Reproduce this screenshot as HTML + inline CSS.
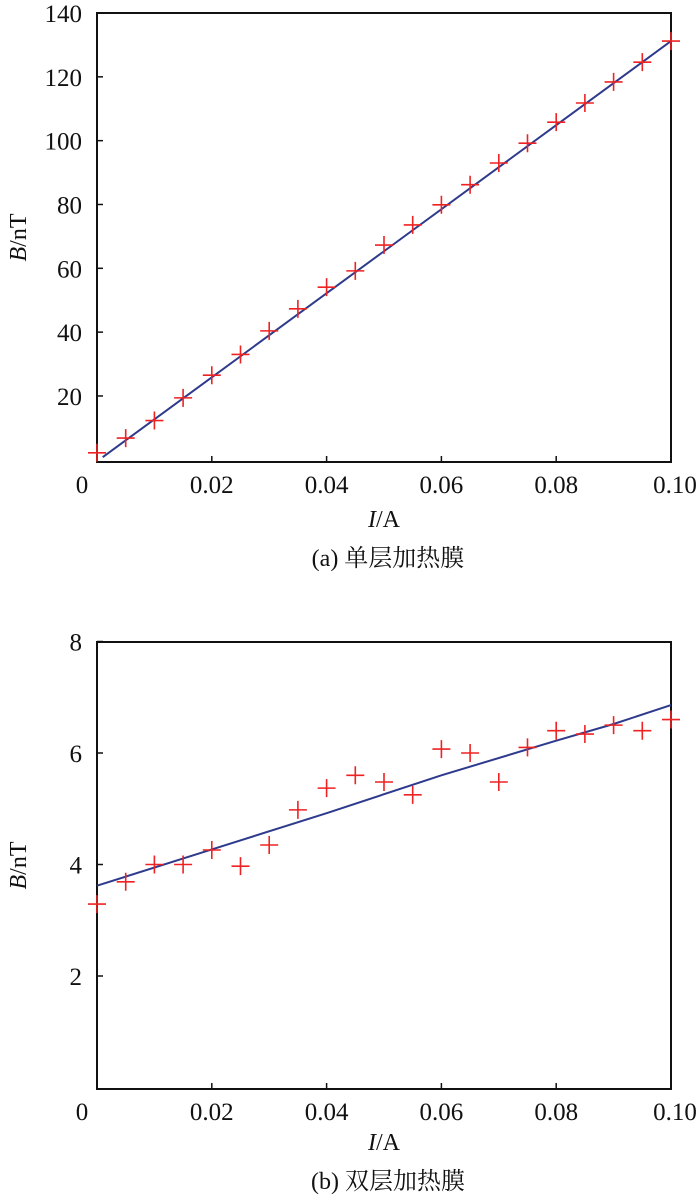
<!DOCTYPE html>
<html><head><meta charset="utf-8"><style>
html,body{margin:0;padding:0;background:#fff;}
svg{display:block;font-family:"Liberation Serif","Noto Serif CJK SC",serif;}
</style></head><body>
<svg id="fig" width="700" height="1202" viewBox="0 0 700 1202"></svg>
<script>
const xCats=[0,0.005,0.01,0.015,0.02,0.025,0.03,0.035,0.04,0.045,0.05,0.055,0.06,0.065,0.07,0.075,0.08,0.085,0.09,0.095,0.1];
const singleVals=[2.2,6.8,12.3,19.4,26.5,33,40.4,47.3,54.1,59.2,67.3,73.6,79.9,86.2,93,99.2,105.8,111.8,118.4,124.6,131.2];
const singleFitX=[0.001,0.1];
const singleFitY=[0.8,131.2];
const doubleVals=[3.29,3.69,4.0,4.0,4.26,3.97,4.35,4.98,5.37,5.6,5.48,5.25,6.07,6.0,5.48,6.1,6.4,6.34,6.5,6.4,6.6];
const doubleFitX=[0,0.02,0.04,0.06,0.08,0.09,0.1];
const doubleFitY=[3.62,4.27,4.92,5.6,6.22,6.52,6.86];
const xTicks=[0,0.02,0.04,0.06,0.08,0.1];
const xTickLabels=["0","0.02","0.04","0.06","0.08","0.10"];
const yTicksA=[20,40,60,80,100,120,140];
const yTicksB=[2,4,6,8];
const NS="http://www.w3.org/2000/svg";
const svg=document.getElementById('fig');
function mk(tag,attrs,parent){const e=document.createElementNS(NS,tag);for(const k in attrs)e.setAttribute(k,attrs[k]);(parent||svg).appendChild(e);return e;}
function drawPanel(p){
  const L=97,R=671,T=p.top,B=p.bottom;
  const sx=v=>L+(v-0)/(0.1)*(R-L);
  const sy=v=>p.y0px-(v-0)/(p.ymax)*(p.y0px-p.ymaxpx);
  const g=mk('g',{});
  
  
  const box=mk('rect',{x:L,y:T,width:R-L,height:B-T,fill:'none',stroke:'#111','stroke-width':2},g);
  
  xTicks.forEach((t,i)=>{
    const x=sx(t);
    if(i>0&&i<xTicks.length-1){const tk=mk('line',{x1:x,x2:x,y1:B,y2:B-6,stroke:'#111','stroke-width':1.5},g);
    }
    const tx=mk('text',{x:i==0?82:(i==xTicks.length-1?x+4:x),y:B+31,'font-size':25,'text-anchor':'middle',fill:'#111'},g);
    tx.textContent=xTickLabels[i];
    
  });
  p.yticks.forEach(t=>{
    const y=sy(t);
    const tk=mk('line',{x1:L,x2:L+6,y1:y,y2:y,stroke:'#111','stroke-width':1.5},g);
    
    const tx=mk('text',{x:82,y:y+9,'font-size':25,'text-anchor':'end',fill:'#111'},g);
    tx.textContent=String(t);
    
  });
  const pts=p.fitX.map((x,i)=>sx(x).toFixed(1)+','+sy(p.fitY[i]).toFixed(1)).join(' ');
  const pl=mk('polyline',{points:pts,fill:'none',stroke:'#2e3a8c','stroke-width':2},g);
  
  xCats.forEach((c,i)=>{
    const x=sx(c),y=sy(p.vals[i]),h=9;
    const m=mk('path',{d:`M${x-h},${y}H${x+h}M${x},${y-h}V${y+h}`,stroke:'#ee2222','stroke-width':1.6,fill:'none'},g);
    
  });
  const yt=mk('text',{transform:`translate(26,${(T+B)/2}) rotate(-90)`,'font-size':24,'text-anchor':'middle',fill:'#111'},g);
  yt.innerHTML='<tspan font-style="italic">B</tspan>/nT';
  
  const xt=mk('text',{x:384,y:B+p.titleOff,'font-size':24,'text-anchor':'middle',fill:'#111'},g);
  xt.innerHTML='<tspan font-style="italic">I</tspan>/A';
  
  const cp=mk('text',{x:388,y:B+p.capOff,'font-size':24,'text-anchor':'middle',fill:'#111'},g);
  cp.textContent=p.caption;
  
}
drawPanel({name:'single-layer-chart',top:13,bottom:462,y0px:459.8,ymaxpx:13,ymax:140,yticks:yTicksA,vals:singleVals,fitX:singleFitX,fitY:singleFitY,caption:'(a) 单层加热膜',titleOff:65,capOff:104});
drawPanel({name:'double-layer-chart',top:642,bottom:1089,y0px:1087.5,ymaxpx:641.5,ymax:8,yticks:yTicksB,vals:doubleVals,fitX:doubleFitX,fitY:doubleFitY,caption:'(b) 双层加热膜',titleOff:61,capOff:100});
</script>
</body></html>
